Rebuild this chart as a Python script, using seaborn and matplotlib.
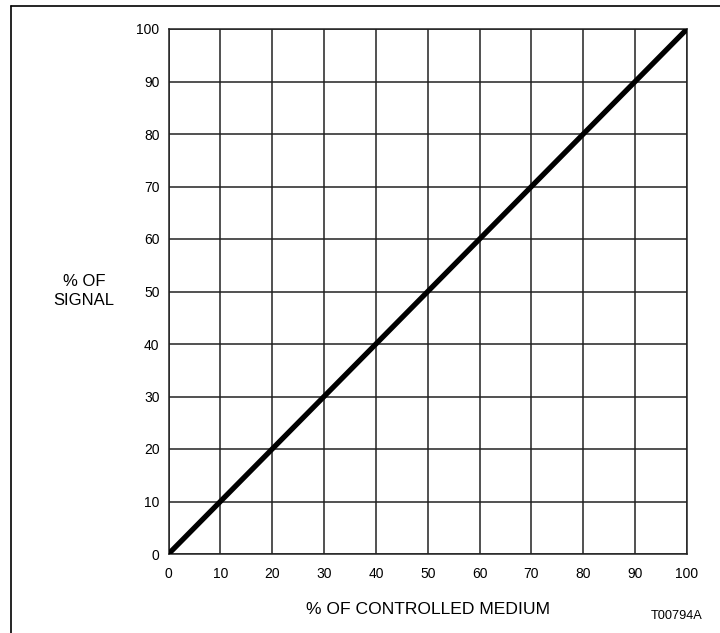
import matplotlib
matplotlib.use("Agg")
import matplotlib.pyplot as plt
import seaborn as sns
import pandas as pd
from matplotlib.lines import Line2D

controlled_medium = [0, 100]
signal = [0, 100]
ticks = [0, 10, 20, 30, 40, 50, 60, 70, 80, 90, 100]

sns.set_theme(style="white")
plt.rcParams['font.family'] = ['Liberation Sans', 'DejaVu Sans']
plt.rcParams['text.color'] = 'black'

fig = plt.figure(figsize=(7.2, 6.33), dpi=100)
ax = fig.add_axes([168.5/720, 1-554/633, (687-168.5)/720, (554-29)/633])

df = pd.DataFrame({"x": controlled_medium, "y": signal})
sns.lineplot(data=df, x="x", y="y", ax=ax, color="black", linewidth=3.8,
             solid_capstyle="round", zorder=5)

ax.set_xlim(0, 100)
ax.set_ylim(0, 100)
ax.set_xticks(ticks)
ax.set_yticks(ticks)
ax.set_xticklabels([str(t) for t in ticks], fontsize=10)
ax.set_yticklabels([str(t) for t in ticks], fontsize=10)
ax.tick_params(axis="x", length=0, pad=9, colors="black")
ax.tick_params(axis="y", length=0, pad=6.5, colors="black")
ax.grid(True, color="#222222", linewidth=1.1)
for s in ax.spines.values():
    s.set_visible(True)
    s.set_color("#222222")
    s.set_linewidth(1.1)
ax.set_xlabel("")
ax.set_ylabel("")

fig.text(428/720, 1-610/633, "% OF CONTROLLED MEDIUM", ha="center", va="center",
         fontsize=12.6, color="black")
fig.text(84/720, 1-291/633, "% OF\nSIGNAL", ha="center", va="center",
         fontsize=12, linespacing=1.33, color="black")
fig.text(677/720, 1-616/633, "T00794A", ha="center", va="center", fontsize=9.2,
         color="black")

# frame lines (top and left)
fig.add_artist(Line2D([10.5/720, 10.5/720], [0, 1-6/633], transform=fig.transFigure,
                      color="black", linewidth=1.2))
fig.add_artist(Line2D([10.5/720, 1], [1-6/633, 1-6/633], transform=fig.transFigure,
                      color="black", linewidth=1.2))

fig.savefig("out.png", dpi=100)
